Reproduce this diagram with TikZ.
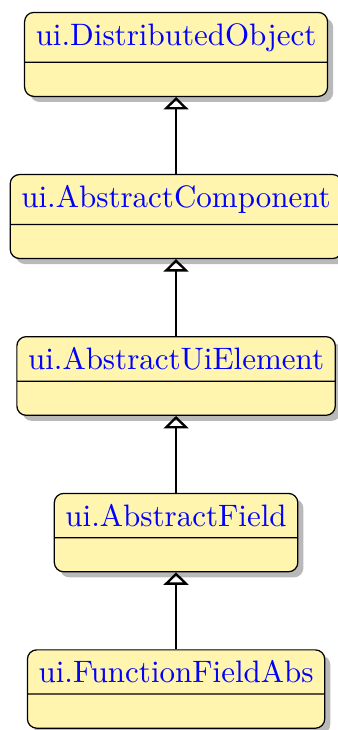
\documentclass[tikz,border=0pt]{standalone}
\usepackage{tikz}
\usetikzlibrary{positioning,shapes.multipart,shadows,arrows.meta}
\definecolor{classfill}{RGB}{255,245,175}

\begin{document}
\begin{tikzpicture}[
    umlclass/.style={rectangle split, rectangle split parts=2, draw, rounded corners=3pt,
      fill=classfill, drop shadow={shadow xshift=1.8pt, shadow yshift=-1.8pt, opacity=.55},
      text=blue, inner xsep=3.6pt, inner ysep=3.3pt},
    inherit/.style={-{Triangle[open,width=8pt,length=4pt]}, line width=0.75pt},
    node distance=24.8pt
  ]
                \useasboundingbox (0,0) rectangle (109pt,-235.5pt);
                \node[umlclass, anchor=north] (dobj) at (56.8pt,-3.8pt) {ui.DistributedObject \nodepart{two} \rule{0pt}{4pt}};
                \node[umlclass, below=of dobj] (acomp) {ui.AbstractComponent \nodepart{two} \rule{0pt}{4pt}};
                \node[umlclass, below=of acomp] (auielem) {ui.AbstractUiElement \nodepart{two} \rule{0pt}{4pt}};
                \node[umlclass, below=of auielem] (afield) {ui.AbstractField \nodepart{two} \rule{0pt}{4pt}};
                \node[umlclass, below=of afield] (ffabs) {ui.FunctionFieldAbs \nodepart{two} \rule{0pt}{4pt}};
                \draw[inherit] (acomp.north) -- (dobj.south);
                \draw[inherit] (auielem.north) -- (acomp.south);
                \draw[inherit] (afield.north) -- (auielem.south);
                \draw[inherit] (ffabs.north) -- (afield.south);
            \end{tikzpicture}
\end{document}
